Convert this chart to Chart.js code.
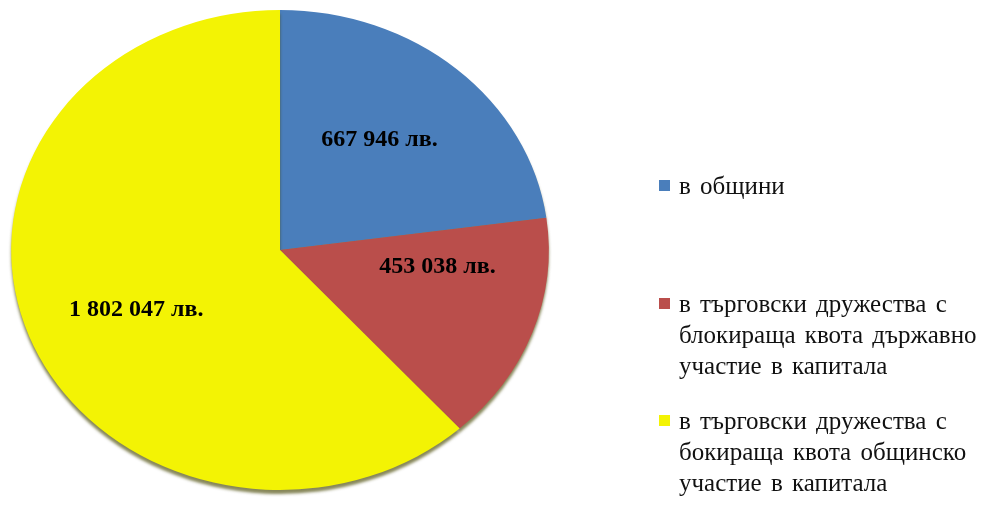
<!DOCTYPE html>
<html>
<head>
<meta charset="utf-8">
<script src="https://cdn.jsdelivr.net/npm/chart.js@4.4.1/dist/chart.umd.min.js"></script>
<style>
  body { margin: 0; background: #fff; }
  #wrap { position: relative; width: 981px; height: 505px; }
  #legend { position: absolute; left: 659px; top: 0; font-family: "Liberation Serif", serif; font-size: 25px; color: #111; }
  .item { position: absolute; left: 0; width: 330px; line-height: 31px; }
  .box { position: absolute; left: 0; top: 10px; width: 11px; height: 11px; }
  .txt { margin-left: 20px; white-space: pre; word-spacing: 3px; }
</style>
</head>
<body>
<div id="wrap">
  <canvas id="chartShare" width="981" height="505"></canvas>
  <div id="legend"></div>
</div>
<script>
/** values (лв.) */
const categories = [
    ['в общини'],
    ['в търговски дружества с', 'блокираща квота държавно', 'участие в капитала'],
    ['в търговски дружества с', 'бокираща квота общинско', 'участие в капитала']
];
const amounts = [667946, 453038, 1802047];
const amountLabels = ['667 946 лв.', '453 038 лв.', '1 802 047 лв.'];
const sliceColors = ['#4A7EBB', '#BA4E4B', '#F3F304'];

// legend tops for each item, the picture has them spread down the right side
const legendTops = [170, 288, 405];
// small turn of each amount label away from the slice middle (radians)
const labelTurn = [-0.04, -0.23, -0.07];

const legendEl = document.getElementById('legend');
categories.forEach((lines, i) => {
    const item = document.createElement('div');
    item.className = 'item';
    item.style.top = legendTops[i] + 'px';
    item.innerHTML = '<span class="box" style="background:' + sliceColors[i] + '"></span>' +
        '<div class="txt">' + lines.join('\n') + '</div>';
    legendEl.appendChild(item);
});

// the pie in the picture is a bit wider than tall, stretch it around its centre
const STRETCH_X = 1.12;
const ellipsePlugin = {
    id: 'ellipse',
    beforeDatasetsDraw(chart) {
        const ctx = chart.ctx;
        const a = chart.chartArea;
        const cx = (a.left + a.right) / 2;
        ctx.save();
        ctx.translate(cx, 0);
        ctx.scale(STRETCH_X, 1);
        ctx.translate(-cx, 0);
        ctx.shadowColor = 'rgba(70, 70, 0, 0.65)';
        ctx.shadowOffsetY = 4;
        ctx.shadowBlur = 3;
    },
    afterDatasetsDraw(chart) {
        chart.ctx.restore();
    }
};

// amount labels inside the slices
const amountPlugin = {
    id: 'amounts',
    afterDraw(chart) {
        const ctx = chart.ctx;
        const meta = chart.getDatasetMeta(0);
        ctx.save();
        ctx.font = 'bold 24px "Liberation Serif", serif';
        ctx.fillStyle = '#000';
        ctx.textAlign = 'center';
        ctx.textBaseline = 'middle';
        meta.data.forEach((arc, i) => {
            const p = arc.getProps(['x', 'y', 'startAngle', 'endAngle', 'outerRadius']);
            const mid = (p.startAngle + p.endAngle) / 2 + labelTurn[i];
            const r = p.outerRadius * 0.59;
            const x = p.x + Math.cos(mid) * r * STRETCH_X;
            const y = p.y + Math.sin(mid) * r;
            ctx.fillText(amountLabels[i], x, y);
        });
        ctx.restore();
    }
};

const _chartShare = document.getElementById('chartShare');

new Chart(_chartShare, {
    type: 'pie',
    data: {
        labels: categories.map(l => l.join(' ')),
        datasets: [{
            data: amounts,
            backgroundColor: sliceColors,
            borderWidth: 0
        }]
    },
    options: {
        responsive: false,
        animation: false,
        layout: { padding: { left: 40, right: 461, top: 10, bottom: 15 } },
        plugins: {
            legend: { display: false },
            tooltip: { enabled: false }
        }
    },
    plugins: [ellipsePlugin, amountPlugin]
});
</script>
</body>
</html>
